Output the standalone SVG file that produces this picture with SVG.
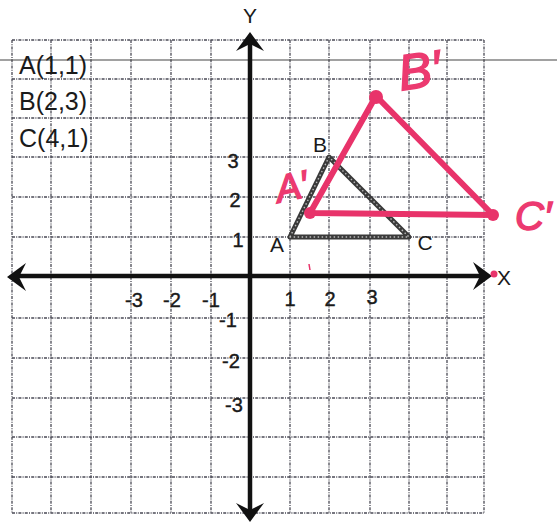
<svg xmlns="http://www.w3.org/2000/svg" width="557" height="524" viewBox="0 0 557 524">
  <style>
    .grid { stroke: #4a4a55; stroke-width: 1.3; stroke-dasharray: 3 1.2 1 1.2; fill: none; }
    .axis { stroke: #111; stroke-width: 4.5; fill: none; }
    .lbl { font-family: "Liberation Sans", Arial, sans-serif; fill: #1a1a1a; }
    .num { font-size: 20px; text-anchor: middle; stroke: #1a1a1a; stroke-width: 0.4; }
    .coord { font-size: 25px; }
    .vert { font-size: 21px; }
    .tri { fill: none; stroke: #3a3a3a; stroke-width: 5; stroke-linejoin: round; }
    .tri2 { fill: none; stroke: #bbb; stroke-width: 1.4; stroke-dasharray: 1.5 2.5; stroke-linejoin: round; }
    .pink { fill: none; stroke: #e8336a; stroke-width: 6; stroke-linejoin: round; stroke-linecap: round; }
    .pinkt { font-family: "Liberation Sans", Arial, sans-serif; font-style: italic; fill: #ec3a70; stroke: #ec3a70; stroke-width: 1.5; }
  </style>
  <defs>
    <path id="arrow" d="M0,0 L-19,-14 L-12,0 L-19,14 Z" fill="#111"/>
  </defs>
  <rect width="557" height="524" fill="#fff"/>

  <g id="grid">
    <path class="grid" d="M12,40V513 M51,40V513 M91,40V513 M131,40V513 M171,40V513 M211,40V513 M290,40V513 M329,40V513 M370,40V513 M409,40V513 M447,40V513 M484,40V513"/>
    <path class="grid" d="M12,40H484 M12,79H484 M12,118H484 M12,157H484 M12,197H484 M12,237H484 M12,318H484 M12,358H484 M12,398H484 M12,437H484 M12,477H484 M12,513H484"/>
  </g>

  <line id="rule" x1="0" y1="60" x2="557" y2="60" stroke="#444" stroke-width="1.2"/>

  <g id="axes">
    <line class="axis" x1="250" y1="40" x2="250" y2="514"/>
    <line class="axis" x1="13" y1="276" x2="486" y2="276"/>
    <use href="#arrow" transform="translate(250,32) rotate(-90)"/>
    <use href="#arrow" transform="translate(250,522) rotate(90)"/>
    <use href="#arrow" transform="translate(7,277) rotate(180)"/>
    <use href="#arrow" transform="translate(492,276)"/>
    <text class="lbl vert" x="250" y="23" text-anchor="middle">Y</text>
    <text class="lbl vert" x="504" y="285" text-anchor="middle">X</text>
  </g>

  <g id="tick-labels">
    <text class="lbl num" x="134" y="307">-3</text>
    <text class="lbl num" x="172" y="307">-2</text>
    <text class="lbl num" x="211" y="307">-1</text>
    <text class="lbl num" x="290" y="306">1</text>
    <text class="lbl num" x="330" y="306">2</text>
    <text class="lbl num" x="372" y="304">3</text>
    <text class="lbl num" x="233" y="168">3</text>
    <text class="lbl num" x="235" y="207">2</text>
    <text class="lbl num" x="238" y="247">1</text>
    <text class="lbl num" x="228" y="327">-1</text>
    <text class="lbl num" x="231" y="368">-2</text>
    <text class="lbl num" x="234" y="412">-3</text>
  </g>

  <g id="coords">
    <text class="lbl coord" x="19" y="74">A(1,1)</text>
    <text class="lbl coord" x="19" y="110">B(2,3)</text>
    <text class="lbl coord" x="19" y="147">C(4,1)</text>
  </g>

  <g id="triangle-ABC">
    <polygon class="tri" points="290,237 329,157 409,237"/>
    <polygon class="tri2" points="290,237 329,157 409,237"/>
    <text class="lbl vert" x="277" y="252" text-anchor="middle">A</text>
    <text class="lbl vert" x="320" y="152" text-anchor="middle">B</text>
    <text class="lbl vert" x="425" y="250" text-anchor="middle">C</text>
  </g>

  <g id="triangle-image">
    <polygon class="pink" points="310,213 376,96 493,215"/>
    <circle cx="310" cy="213" r="6" fill="#e8336a"/>
    <circle cx="376" cy="97" r="7" fill="#e8336a"/>
    <circle cx="493" cy="215" r="6" fill="#e8336a"/>
    <circle cx="494" cy="274" r="3.5" fill="#e8336a"/>
    <line x1="309" y1="264" x2="310" y2="270" stroke="#e8336a" stroke-width="1.5"/>
    <text class="pinkt" x="398" y="89" font-size="50" transform="rotate(-8 410 70)">B′</text>
    <text class="pinkt" x="275" y="200" font-size="38" transform="rotate(-12 290 185)">A′</text>
    <text class="pinkt" x="515" y="230" font-size="40">C′</text>
  </g>
</svg>
